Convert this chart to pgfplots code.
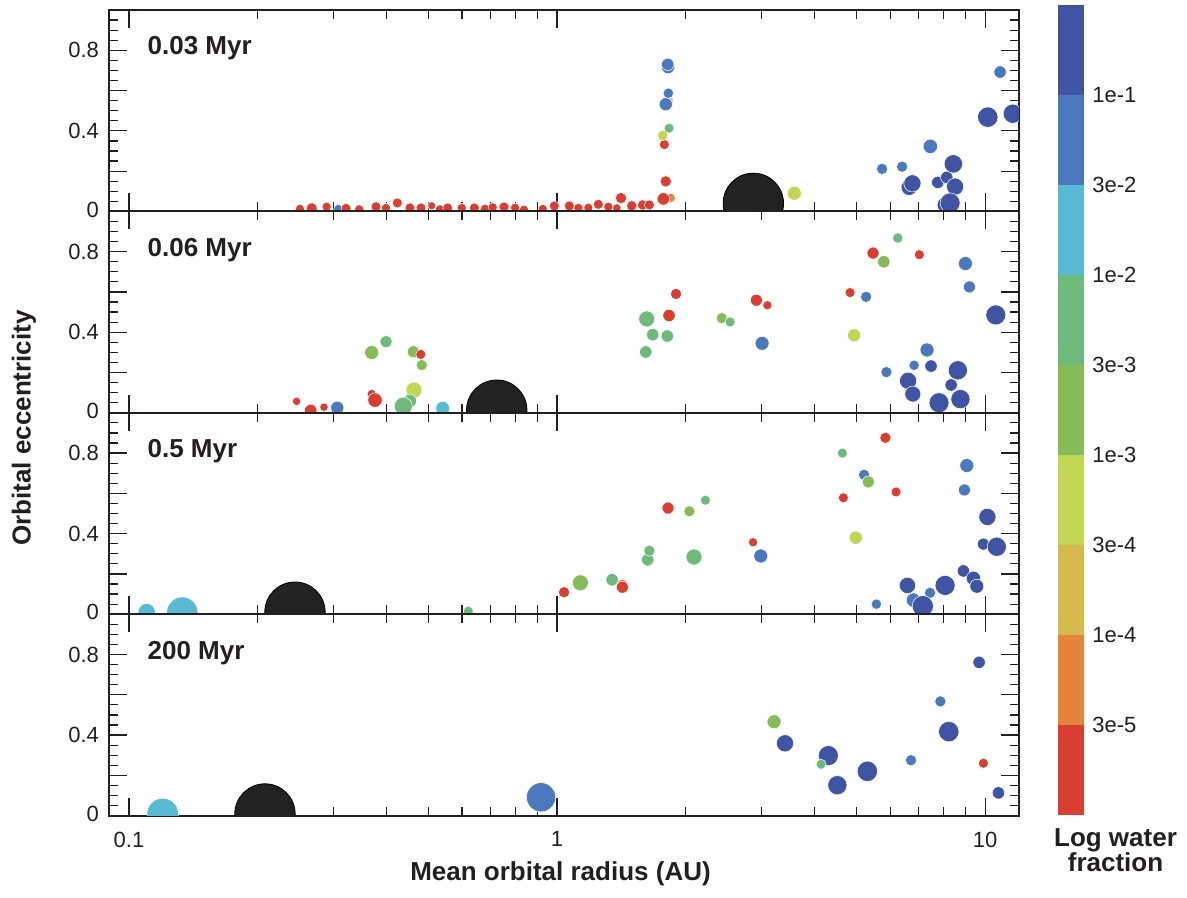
\documentclass[border=0pt]{standalone}
\usepackage{fontspec}
\setmainfont{Liberation Sans}
\usepackage{pgfplots}
\pgfplotsset{compat=1.18}
\usepackage{pgfplotstable}
\definecolor{cK}{HTML}{222222}
\definecolor{cR}{HTML}{DA3D31}
\definecolor{cO}{HTML}{E5843B}
\definecolor{cM}{HTML}{D3BA4B}
\definecolor{cY}{HTML}{C3D651}
\definecolor{cG}{HTML}{85BC57}
\definecolor{cT}{HTML}{6DBA7B}
\definecolor{cC}{HTML}{58BBD3}
\definecolor{cB}{HTML}{4A79BE}
\definecolor{cD}{HTML}{3F55A3}
\definecolor{fgc}{HTML}{231F20}

\pgfplotstableread{
x y c r
0.2508 0.012 r 2.0
0.2673 0.015 r 2.5
0.2896 0.023 r 2.0
0.3083 0.012 b 2.0
0.3214 0.015 r 2.2
0.3452 0.010 r 2.0
0.3777 0.023 r 2.2
0.3986 0.017 r 2.0
0.4235 0.042 r 2.2
0.4533 0.017 r 2.2
0.4811 0.017 r 2.2
0.5096 0.028 r 1.7
0.5328 0.010 r 2.0
0.5553 0.017 r 2.2
0.5988 0.017 r 2.0
0.6408 0.017 r 2.2
0.6788 0.013 r 2.0
0.7077 0.020 r 2.0
0.7517 0.022 r 2.2
0.7978 0.018 r 2.0
0.8374 0.008 r 2.0
0.9260 0.012 r 2.0
0.9856 0.027 r 2.2
1.0684 0.027 r 2.2
1.1214 0.017 r 2.0
1.1832 0.018 r 2.0
1.2488 0.035 r 2.2
1.3178 0.023 r 2.0
1.3789 0.017 r 1.8
1.4110 0.066 r 2.5
1.4944 0.028 r 2.3
1.5855 0.032 r 2.3
1.6433 0.032 r 2.2
1.8438 0.067 o 2.0
1.7717 0.062 r 2.8
1.7947 0.149 r 2.5
1.7812 0.332 r 2.2
1.7660 0.377 y 2.3
1.8269 0.413 t 2.2
1.8300 0.551 y 1.8
1.7947 0.532 b 3.0
1.8199 0.587 b 2.3
1.8170 0.716 b 3.0
1.8140 0.730 b 2.8
2.8747 0.040 k 14.8
3.5843 0.090 y 3.2
5.745 0.211 b 2.5
6.399 0.222 b 2.5
7.449 0.323 b 3.3
6.644 0.119 d 3.7
6.763 0.139 d 4.0
7.752 0.144 d 2.8
8.136 0.169 d 2.8
8.431 0.236 d 4.3
8.509 0.123 d 4.0
8.064 0.032 d 3.7
8.284 0.042 d 4.7
10.146 0.468 d 4.8
11.605 0.485 d 4.5
10.840 0.692 b 2.8
}\panelA

\pgfplotstableread{
x y c r
0.2464 0.057 r 1.8
0.2658 0.012 r 2.8
0.2855 0.028 r 1.8
0.3066 0.025 b 3.0
0.3690 0.093 r 2.0
0.3757 0.063 r 3.3
0.3690 0.299 g 3.2
0.3986 0.353 t 2.7
0.4616 0.303 g 2.7
0.4804 0.290 r 2.2
0.4830 0.237 g 2.5
0.4633 0.113 y 3.7
0.4533 0.060 t 3.0
0.4375 0.033 t 4.2
0.5407 0.022 c 3.2
0.7230 0.013 k 14.8
1.620 0.466 t 3.7
1.673 0.388 t 2.8
1.810 0.381 t 2.8
1.612 0.302 t 2.8
1.827 0.483 r 2.8
1.897 0.590 r 2.5
2.426 0.470 g 2.5
2.537 0.451 t 2.2
2.922 0.559 r 2.7
3.100 0.534 r 2.0
3.013 0.345 b 3.2
4.837 0.597 r 2.2
5.272 0.576 b 2.5
4.942 0.385 y 3.0
5.473 0.793 r 2.7
5.799 0.750 g 2.8
6.252 0.868 t 2.3
7.022 0.785 r 2.2
8.995 0.741 b 3.2
9.191 0.625 b 2.7
10.593 0.486 d 4.7
7.318 0.312 b 3.2
6.826 0.236 b 2.3
7.477 0.232 d 2.8
5.881 0.202 b 2.5
6.609 0.159 d 4.0
6.779 0.093 d 3.7
8.636 0.211 d 4.5
8.330 0.138 d 2.8
7.806 0.050 d 4.7
8.758 0.068 d 4.5
}\panelB

\pgfplotstableread{
x y c r
0.1100 0.011 c 4.0
0.1332 0.008 c 7.5
0.2442 0.010 k 14.8
0.6205 0.015 t 2.2
1.0384 0.109 r 2.5
1.1336 0.156 g 3.7
1.3446 0.171 t 2.8
1.4211 0.147 o 2.5
1.4211 0.134 r 2.7
1.629 0.270 t 2.8
1.643 0.315 t 2.5
2.089 0.284 t 3.7
1.817 0.527 r 2.7
2.038 0.511 g 2.5
2.221 0.566 t 2.2
2.871 0.357 r 2.0
2.992 0.289 b 3.2
4.641 0.800 t 2.2
5.850 0.876 r 2.5
5.215 0.692 b 2.5
5.337 0.657 g 2.7
4.666 0.578 r 2.2
6.195 0.607 r 2.2
4.988 0.380 y 3.0
9.063 0.738 b 3.2
8.947 0.617 b 2.7
10.125 0.483 d 4.0
9.909 0.348 d 2.7
10.649 0.335 d 4.5
8.899 0.215 d 2.8
9.391 0.178 d 3.3
9.563 0.139 d 3.2
6.584 0.143 d 3.8
8.064 0.143 d 4.7
7.437 0.106 b 2.5
6.801 0.070 b 3.3
7.152 0.040 d 5.0
5.572 0.050 b 2.3
}\panelC

\pgfplotstableread{
x y c r
0.1199 0.008 c 7.6
0.2078 0.008 k 14.8
0.9175 0.091 b 7.0
3.214 0.466 g 3.2
3.409 0.359 d 4.0
4.304 0.298 d 4.7
4.138 0.255 t 2.2
4.517 0.151 d 4.5
5.309 0.220 d 4.8
6.715 0.275 b 2.5
7.862 0.567 b 2.5
8.226 0.417 d 4.8
9.683 0.761 d 2.8
9.909 0.260 r 2.2
10.742 0.113 d 2.8
}\panelD

\tikzset{myplabel/.style={anchor=base west, inner sep=0pt, font=\bfseries\fontsize{13}{15}\selectfont, text=fgc}}

\pgfplotsset{
  mypanel/.style={
    scale only axis, width=455pt, height=100.7pt,
    anchor=north west,
    xmin=0.0898, xmax=12.0, ymin=0, ymax=1,
    xtick={0.1,1,10},
    minor xtick={0.2,0.3,0.4,0.5,0.6,0.7,0.8,0.9,2,3,4,5,6,7,8,9},
    ytick={0,0.2,0.4,0.6,0.8},
    yticklabels={\raisebox{2pt}{0},,0.4,,0.8},
    minor ytick={0.05,0.1,0.15,0.25,0.3,0.35,0.45,0.5,0.55,0.65,0.7,0.75,0.85,0.9,0.95},
    tick align=inside, xtick pos=both, ytick pos=both,
    xticklabel pos=lower, yticklabel pos=left,
    axis line style={line width=0.9pt, fgc},
    tick style={fgc, line width=0.6pt},
    major tick length=9pt, minor tick length=4.5pt,
    tick label style={font=\fontsize{11}{13}\selectfont, text=fgc},
    yticklabel style={xshift=-1.5pt},
    xticklabel style={yshift=-4.5pt},
    clip marker paths=true,
  },
  mydots/.style={
    scatter, only marks, point meta=explicit symbolic,
    scatter/classes={
      k={mark=*,fill=cK,draw=none},
      r={mark=*,fill=cR,draw=white,line width=0.25pt},
      o={mark=*,fill=cO,draw=white,line width=0.25pt},
      m={mark=*,fill=cM,draw=white,line width=0.25pt},
      y={mark=*,fill=cY,draw=white,line width=0.25pt},
      g={mark=*,fill=cG,draw=white,line width=0.25pt},
      t={mark=*,fill=cT,draw=white,line width=0.25pt},
      c={mark=*,fill=cC,draw=white,line width=0.25pt},
      b={mark=*,fill=cB,draw=white,line width=0.25pt},
      d={mark=*,fill=cD,draw=white,line width=0.25pt}},
    visualization depends on={\thisrow{r} \as \rad},
    scatter/@pre marker code/.append style={/tikz/mark size=\rad+0.3},
  },
}

\begin{document}
\begin{tikzpicture}
\path[use as bounding box] (0,0) rectangle (593.5pt,-449pt);

\begin{semilogxaxis}[mypanel, at={(54.5pt,-5pt)}, xticklabels={}]
\addplot[mydots] table[x=x,y=y,meta=c] {\panelA};
\node[myplabel] at (rel axis cs:0.042,0.777) {0.03 Myr};
\end{semilogxaxis}

\begin{semilogxaxis}[mypanel, at={(54.5pt,-105.7pt)}, xticklabels={}]
\addplot[mydots] table[x=x,y=y,meta=c] {\panelB};
\node[myplabel] at (rel axis cs:0.042,0.777) {0.06 Myr};
\end{semilogxaxis}

\begin{semilogxaxis}[mypanel, at={(54.5pt,-206.4pt)}, xticklabels={}]
\addplot[mydots] table[x=x,y=y,meta=c] {\panelC};
\node[myplabel] at (rel axis cs:0.042,0.777) {0.5 Myr};
\end{semilogxaxis}

\begin{semilogxaxis}[mypanel, at={(54.5pt,-307.1pt)}, xticklabels={0.1,1,10}]
\addplot[mydots] table[x=x,y=y,meta=c] {\panelD};
\node[myplabel] at (rel axis cs:0.042,0.777) {200 Myr};
\end{semilogxaxis}

% colour bar
\begin{axis}[scale only axis, width=13pt, height=405pt, anchor=north west,
  at={(529pt,-2.5pt)}, xmin=0, xmax=1, ymin=0, ymax=9,
  axis line style={draw=none}, xtick=\empty,
  ytick={1,2,3,4,5,6,7,8},
  yticklabels={3e-5,1e-4,3e-4,1e-3,3e-3,1e-2,3e-2,1e-1},
  yticklabel pos=right, ytick pos=right, major tick length=0pt,
  tick label style={font=\fontsize{11}{13}\selectfont, text=fgc},
  yticklabel style={inner sep=0pt, xshift=4pt},
  clip=false]
\addplot[fill=cR, draw=none] coordinates {(0,0) (1,0) (1,1) (0,1)} -- cycle;
\addplot[fill=cO, draw=none] coordinates {(0,1) (1,1) (1,2) (0,2)} -- cycle;
\addplot[fill=cM, draw=none] coordinates {(0,2) (1,2) (1,3) (0,3)} -- cycle;
\addplot[fill=cY, draw=none] coordinates {(0,3) (1,3) (1,4) (0,4)} -- cycle;
\addplot[fill=cG, draw=none] coordinates {(0,4) (1,4) (1,5) (0,5)} -- cycle;
\addplot[fill=cT, draw=none] coordinates {(0,5) (1,5) (1,6) (0,6)} -- cycle;
\addplot[fill=cC, draw=none] coordinates {(0,6) (1,6) (1,7) (0,7)} -- cycle;
\addplot[fill=cB, draw=none] coordinates {(0,7) (1,7) (1,8) (0,8)} -- cycle;
\addplot[fill=cD, draw=none] coordinates {(0,8) (1,8) (1,9) (0,9)} -- cycle;
\end{axis}

\node[anchor=base, inner sep=0pt, font=\bfseries\fontsize{13}{15}\selectfont, text=fgc]
  at (557.75pt,-423.35pt) {Log water};
\node[anchor=base, inner sep=0pt, font=\bfseries\fontsize{13}{15}\selectfont, text=fgc]
  at (557.75pt,-435.85pt) {fraction};
\node[anchor=base, inner sep=0pt, font=\bfseries\fontsize{13}{15}\selectfont, text=fgc]
  at (280.25pt,-440pt) {Mean orbital radius (AU)};
\node[rotate=90, anchor=center, inner sep=0pt, font=\bfseries\fontsize{13}{15}\selectfont, text=fgc]
  at (12pt,-214pt) {Orbital eccentricity};
\end{tikzpicture}
\end{document}
